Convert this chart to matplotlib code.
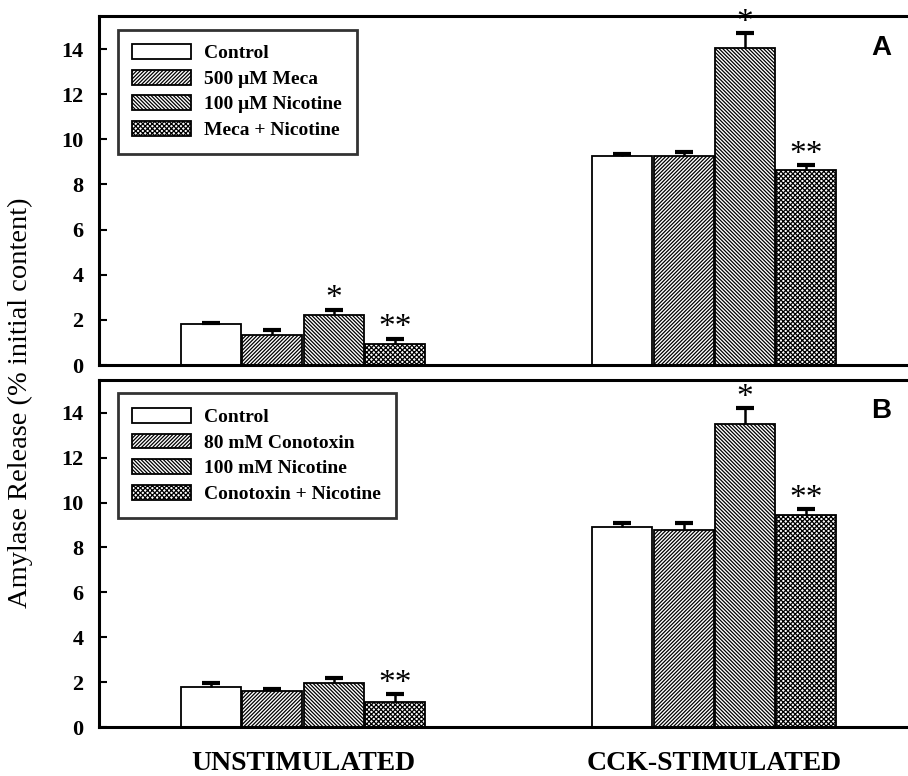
import matplotlib.pyplot as plt
import numpy as np

plt.rcParams['font.family'] = ['Liberation Serif', 'DejaVu Serif']
plt.rcParams['hatch.linewidth'] = 0.9

groups = ['UNSTIMULATED', 'CCK-STIMULATED']

labels_a = ['Control', '500 μM Meca', '100 μM Nicotine', 'Meca + Nicotine']
vals_a = [[1.80, 1.35, 2.20, 0.95],
          [9.25, 9.25, 14.05, 8.65]]
err_a = [[0.05, 0.22, 0.25, 0.22],
         [0.10, 0.20, 0.65, 0.20]]
stars_a = [['', '', '*', '**'],
           ['', '', '*', '**']]

labels_b = ['Control', '80 mM Conotoxin', '100 mM Nicotine', 'Conotoxin + Nicotine']
vals_b = [[1.78, 1.60, 1.95, 1.10],
          [8.90, 8.80, 13.50, 9.45]]
err_b = [[0.18, 0.08, 0.25, 0.35],
         [0.20, 0.30, 0.70, 0.25]]
stars_b = [['', '', '', '**'],
           ['', '', '*', '**']]

hatches = ['', '/' * 9, '\\' * 9, 'x' * 7]
w = 0.146
offsets = (np.arange(4) - 1.5) * (w + 0.003)
cap = 0.022

fig = plt.figure(figsize=(9.08, 7.76), dpi=100)
ax_a = fig.add_axes([0.109, 0.5296, 0.895, 0.4494])
ax_b = fig.add_axes([0.109, 0.0631, 0.895, 0.4469])


def draw(ax, vals, errs, stars, labels, tag):
    x = np.arange(len(groups))
    for i in range(4):
        v = np.array([vals[g][i] for g in range(2)])
        e = np.array([errs[g][i] for g in range(2)])
        xs = x + offsets[i]
        ax.bar(xs, v, w, color='white', edgecolor='black',
               linewidth=1.3, hatch=hatches[i], label=labels[i], zorder=2)
        # upper error bars only
        ax.vlines(xs, v, v + e, color='black', linewidth=1.8, zorder=3)
        ax.hlines(v + e, xs - cap, xs + cap, color='black', linewidth=3, zorder=3)
        for g in range(2):
            if stars[g][i]:
                ax.text(xs[g], v[g] + e[g] - 0.2, stars[g][i],
                        ha='center', va='bottom', fontsize=24, clip_on=False, zorder=4)
    ax.set_xlim(-0.496, 1.48)
    ax.set_ylim(0, 15.45)
    ax.set_yticks(range(0, 15, 2))
    ax.set_xticks([])
    for s in ['left', 'bottom', 'top']:
        ax.spines[s].set_linewidth(2.2)
    ax.spines['right'].set_visible(False)
    ax.tick_params(axis='y', direction='in', length=6, width=1.5, labelsize=16, pad=11)
    for t in ax.get_yticklabels():
        t.set_fontweight('bold')
    leg = ax.legend(loc='upper left', bbox_to_anchor=(0.023, 0.962), frameon=True,
                    fancybox=False, edgecolor='black', handlelength=3.0, handleheight=0.8,
                    prop={'weight': 'bold', 'size': 14}, borderpad=0.75, labelspacing=0.38,
                    handletextpad=0.7, borderaxespad=0)
    leg.get_frame().set_linewidth(2)
    ax.text(0.975, 0.91, tag, transform=ax.transAxes, ha='right', va='center',
            fontsize=20, fontweight='bold', family='Liberation Sans')


draw(ax_a, vals_a, err_a, stars_a, labels_a, 'A')
draw(ax_b, vals_b, err_b, stars_b, labels_b, 'B')

for g, name in enumerate(groups):
    ax_b.text(g, -0.105, name, transform=ax_b.get_xaxis_transform(), ha='center',
              va='center', fontsize=20, fontweight='bold')

fig.text(0.022, 0.481, 'Amylase Release (% initial content)', rotation=90,
         ha='center', va='center', fontsize=20.5)

fig.savefig('out.png', dpi=100)
